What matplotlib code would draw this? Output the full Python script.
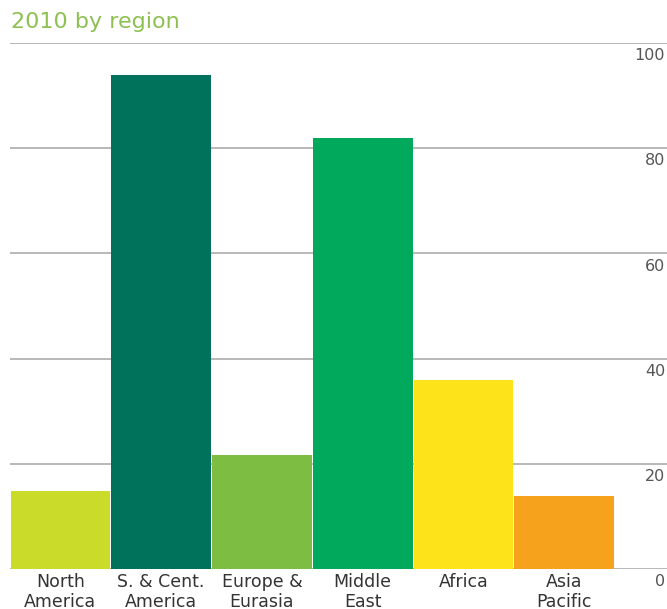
import numpy as np
import matplotlib as mpl
mpl.use('Agg')
import matplotlib.pyplot as plt
import matplotlib.transforms as mtransforms

#----- data -----
regions = ['North\nAmerica', 'S. & Cent.\nAmerica', 'Europe &\nEurasia',
           'Middle\nEast', 'Africa', 'Asia\nPacific']
values = [14.8, 93.9, 21.7, 81.9, 35.9, 13.9]
colors = ['#cbdb2a', '#00715a', '#7dbd42', '#00a95c', '#fde41a', '#f6a21c']
yticks = [0, 20, 40, 60, 80, 100]
title = '2010 by region'

plt.rcParams['font.family'] = ['DejaVu Sans']

#------ Figure ----------
fig = plt.figure(figsize=[6.67, 6.09], dpi=100)
ax = fig.add_axes([10/667, 1-569/609, 1-10/667, (569-43)/609])

x = np.arange(len(values))
ax.bar(x, values, width=0.99, color=colors, zorder=3)

ax.set_xlim(-0.5, 6.02)
ax.set_ylim(0, 100)

# horizontal rules with the value written just under the right end
trans = mtransforms.blended_transform_factory(ax.transAxes, ax.transData)
for v in yticks:
    ax.axhline(v, color='#b8b8b8', lw=1.4, zorder=1)
    ax.text(0.997, v - 1.0, str(v), transform=trans, ha='right', va='top',
            fontsize=11.5, color='#555555')

ax.set_xticks(x)
ax.set_xticklabels(regions, fontsize=12.5, color='#333333', linespacing=1.1)
ax.tick_params(axis='x', length=0, pad=3)
ax.set_yticks([])
for s in ax.spines.values():
    s.set_visible(False)

fig.text(11/667, 1-22/609, title, ha='left', va='center',
         fontsize=16, color='#8cc152')

fig.savefig('out.png', dpi=100)
plt.close(fig)
